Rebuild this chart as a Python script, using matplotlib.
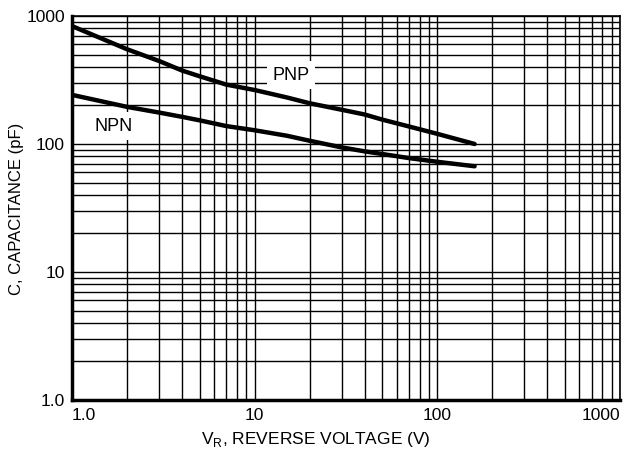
import matplotlib
matplotlib.use("Agg")
import matplotlib.pyplot as plt
from matplotlib.ticker import LogLocator, NullFormatter

plt.rcParams['font.family'] = ['Liberation Sans', 'DejaVu Sans']

# Data
pnp_v = [1.0, 2, 3, 4, 5, 7, 10, 15, 20, 30, 40, 50, 70, 100, 160]
pnp_c = [834, 550, 445, 375, 338, 291, 264, 231, 208, 185, 170, 155, 137, 120, 100]
npn_v = [1.0, 2, 3, 4, 5, 7, 10, 15, 20, 30, 40, 50, 70, 100, 160]
npn_c = [242, 195, 176, 163, 153, 138, 128, 116, 106, 94, 87.6, 83.5, 77.6, 72.6, 67]

x_ticks = [1, 10, 100, 1000]
x_ticklabels = ["1.0", "10", "100", "1000"]
y_ticks = [1, 10, 100, 1000]
y_ticklabels = ["1.0", "10", "100", "1000"]

fig = plt.figure(figsize=(6.25, 4.53), dpi=100)
ax = fig.add_axes([0.1152, 0.117, 0.8768, 0.8477])
ax.set_xscale('log')
ax.set_yscale('log')
ax.set_xlim(1, 1000)
ax.set_ylim(1, 1000)

ax.xaxis.set_minor_locator(LogLocator(base=10, subs=range(2, 10), numticks=30))
ax.yaxis.set_minor_locator(LogLocator(base=10, subs=range(2, 10), numticks=30))
ax.xaxis.set_minor_formatter(NullFormatter())
ax.yaxis.set_minor_formatter(NullFormatter())

ax.set_xticks(x_ticks)
ax.set_xticklabels(x_ticklabels)
ax.set_yticks(y_ticks)
ax.set_yticklabels(y_ticklabels)
ax.tick_params(which='both', length=0, labelsize=12.5)
ax.tick_params(axis='x', pad=6)
ax.tick_params(axis='y', pad=5)
xl = ax.get_xticklabels()
xl[0].set_ha('left')
xl[-1].set_ha('right')

ax.grid(True, which='both', color='black', linewidth=1.0)
ax.set_axisbelow(True)

for s in ['left', 'bottom']:
    ax.spines[s].set_linewidth(2.5)
for s in ['top', 'right']:
    ax.spines[s].set_linewidth(1.2)

ax.plot(pnp_v, pnp_c, color='black', linewidth=3.2, solid_capstyle='round', zorder=3)
ax.plot(npn_v, npn_c, color='black', linewidth=3.2, solid_capstyle='round', zorder=3)

ax.text(15.8, 345, "PNP", fontsize=13, ha='center', va='center', zorder=4,
        bbox=dict(facecolor='white', edgecolor='none', pad=4))
ax.text(1.68, 138, "NPN", fontsize=13, ha='center', va='center', zorder=4,
        bbox=dict(facecolor='white', edgecolor='none', pad=4))

ax.set_xlabel("V$_\\mathregular{R}$, REVERSE VOLTAGE (V)", fontsize=12.5)
ax.set_ylabel("C, CAPACITANCE (pF)", fontsize=12)
ax.xaxis.set_label_coords((316 - 72) / 548, -(440 - 400) / 384)
ax.yaxis.set_label_coords(-(72 - 17) / 548, (400 - 209) / 384)
ax.xaxis.label.set_va('center')
ax.yaxis.label.set_va('center')

fig.savefig("out.png", dpi=100)
